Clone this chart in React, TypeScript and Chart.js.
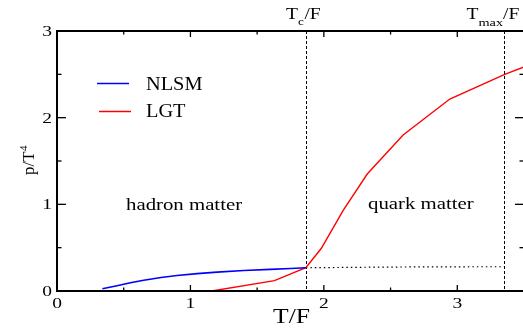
import React, { useEffect, useRef } from "react";
import { Chart, registerables } from "chart.js";

Chart.register(...registerables);

// ---- data ----
const nlsmT = [0.34, 0.45, 0.55, 0.65, 0.78, 0.9, 1.05, 1.2, 1.4, 1.6, 1.75, 1.865];
const nlsmP = [0.025, 0.06, 0.095, 0.125, 0.155, 0.178, 0.2, 0.218, 0.236, 0.25, 0.26, 0.268];
const lgtT = [1.16, 1.63, 1.865, 1.98, 2.145, 2.325, 2.594, 2.944, 3.356, 3.5];
const lgtP = [0, 0.12, 0.27, 0.49, 0.93, 1.35, 1.8, 2.215, 2.5, 2.585];
const tailT = [1.865, 2.3, 2.8, 3.35];
const tailP = [0.268, 0.274, 0.279, 0.28];
const Tc = 1.865;
const Tmax = 3.35;
const xMajor = [0, 1, 2, 3];
const xMinor = [0.5, 1.5, 2.5, 3.5];
const yMajor = [0, 1, 2, 3];
const yMinor = [0.5, 1.5, 2.5];
const seriesNames = ["NLSM", "LGT"];
const regionLabels = ["hadron matter", "quark matter"];

const FONT = '"Liberation Serif", "DejaVu Serif", serif';

function txt(ctx: CanvasRenderingContext2D, s: string, x: number, y: number, size: number, sx: number, align: string) {
  ctx.save();
  ctx.font = `${size}px ${FONT}`;
  ctx.textAlign = "left";
  ctx.textBaseline = "alphabetic";
  ctx.fillStyle = "#000";
  const w = ctx.measureText(s).width * sx;
  const x0 = align === "center" ? x - w / 2 : align === "right" ? x - w : x;
  ctx.translate(x0, y);
  ctx.scale(sx, 1);
  ctx.fillText(s, 0, 0);
  ctx.restore();
  return w;
}

const decor = {
  id: "decor",
  beforeDatasetsDraw(chart: any) {
    const ctx: CanvasRenderingContext2D = chart.ctx;
    const xs = chart.scales.x;
    const a = chart.chartArea;
    ctx.save();
    ctx.strokeStyle = "#000";
    ctx.lineWidth = 1;
    ctx.setLineDash([3, 2]);
    [Tc, Tmax].forEach((v) => {
      const px = Math.round(xs.getPixelForValue(v)) + 0.5;
      ctx.beginPath();
      ctx.moveTo(px, a.top);
      ctx.lineTo(px, a.bottom);
      ctx.stroke();
    });
    ctx.restore();
  },
  afterDraw(chart: any) {
    const ctx: CanvasRenderingContext2D = chart.ctx;
    const xs = chart.scales.x;
    const ys = chart.scales.y;
    const a = chart.chartArea;
    ctx.save();
    ctx.strokeStyle = "#000";
    ctx.lineWidth = 1.3;
    const line = (x1: number, y1: number, x2: number, y2: number) => {
      ctx.beginPath();
      ctx.moveTo(x1, y1);
      ctx.lineTo(x2, y2);
      ctx.stroke();
    };
    // ticks
    xMajor.forEach((v) => {
      const p = xs.getPixelForValue(v);
      line(p, a.bottom, p, a.bottom - 6);
      line(p, a.top, p, a.top + 6);
    });
    xMinor.forEach((v) => {
      const p = xs.getPixelForValue(v);
      line(p, a.bottom, p, a.bottom - 3.5);
      line(p, a.top, p, a.top + 3.5);
    });
    yMajor.forEach((v) => {
      const p = ys.getPixelForValue(v);
      line(a.left, p, a.left + 9, p);
      line(a.right, p, a.right - 9, p);
    });
    yMinor.forEach((v) => {
      const p = ys.getPixelForValue(v);
      line(a.left, p, a.left + 4.5, p);
      line(a.right, p, a.right - 4.5, p);
    });
    // frame
    ctx.lineWidth = 2;
    ctx.strokeRect(a.left, a.top, a.right - a.left, a.bottom - a.top);

    // tick labels
    xMajor.forEach((v) => {
      txt(ctx, String(v), xs.getPixelForValue(v), 308, 15, 1.3, "center");
    });
    yMajor.forEach((v) => {
      txt(ctx, String(v), 52, ys.getPixelForValue(v) + 5, 15, 1.3, "right");
    });

    // axis titles
    txt(ctx, "T/F", 291.5, 323, 20, 1.28, "center");
    ctx.save();
    ctx.translate(34, 175);
    ctx.rotate(-Math.PI / 2);
    ctx.font = `17px ${FONT}`;
    ctx.fillStyle = "#000";
    ctx.textBaseline = "alphabetic";
    ctx.textAlign = "left";
    ctx.fillText("p/T", 0, 0);
    const w = ctx.measureText("p/T").width;
    ctx.font = `11px ${FONT}`;
    ctx.fillText("4", w + 0.5, -7);
    ctx.restore();

    // top labels
    let x = 286;
    x += txt(ctx, "T", x, 18.5, 17, 1.15, "left");
    txt(ctx, "c", x, 25, 11, 1.2, "left");
    x += 6.5;
    txt(ctx, "/F", x, 18.5, 17, 1.15, "left");

    x = 466.5;
    x += txt(ctx, "T", x, 18.5, 17, 1.15, "left");
    x += txt(ctx, "max", x, 26, 11, 1.3, "left");
    txt(ctx, "/F", x, 18.5, 17, 1.15, "left");

    // region labels
    txt(ctx, regionLabels[0], 126, 210, 16, 1.3, "left");
    txt(ctx, regionLabels[1], 368, 208.5, 16, 1.3, "left");

    // legend
    ctx.lineWidth = 1.5;
    ctx.setLineDash([]);
    ctx.strokeStyle = "#0000ff";
    line(97, 83.5, 129, 83.5);
    ctx.strokeStyle = "#ff0000";
    line(99, 111.5, 131, 111.5);
    txt(ctx, seriesNames[0], 146, 89.5, 19, 1.07, "left");
    txt(ctx, seriesNames[1], 146, 117, 19, 1.07, "left");
    ctx.restore();
  },
};

export default function App() {
  const ref = useRef<HTMLCanvasElement>(null);
  useEffect(() => {
    if (!ref.current) return;
    const pts = (xs: number[], ys: number[]) => xs.map((v, i) => ({ x: v, y: ys[i] }));
    const chart = new Chart(ref.current, {
      type: "line",
      data: {
        datasets: [
          {
            label: seriesNames[0],
            data: pts(nlsmT, nlsmP),
            borderColor: "#0000ff",
            borderWidth: 1.6,
            pointRadius: 0,
            tension: 0,
          },
          {
            label: seriesNames[1],
            data: pts(lgtT, lgtP),
            borderColor: "#ff0000",
            borderWidth: 1.4,
            pointRadius: 0,
            tension: 0,
          },
          {
            label: "tail",
            data: pts(tailT, tailP),
            borderColor: "#000000",
            borderWidth: 1.2,
            borderDash: [1.5, 3],
            pointRadius: 0,
            tension: 0,
          },
        ],
      },
      options: {
        responsive: false,
        animation: false,
        layout: { padding: { left: 57, right: 16, top: 31, bottom: 37 } },
        scales: {
          x: { type: "linear", min: 0, max: 3.5, display: false },
          y: { type: "linear", min: 0, max: 3, display: false },
        },
        plugins: { legend: { display: false }, tooltip: { enabled: false } },
      },
      plugins: [decor],
    });
    return () => chart.destroy();
  }, []);
  return (
    <div
      style={{
        position: "fixed",
        left: 0,
        top: 0,
        width: 523,
        height: 328,
        overflow: "hidden",
        background: "#fff",
      }}
    >
      <canvas ref={ref} width={540} height={328} style={{ width: 540, height: 328, display: "block" }} />
    </div>
  );
}
